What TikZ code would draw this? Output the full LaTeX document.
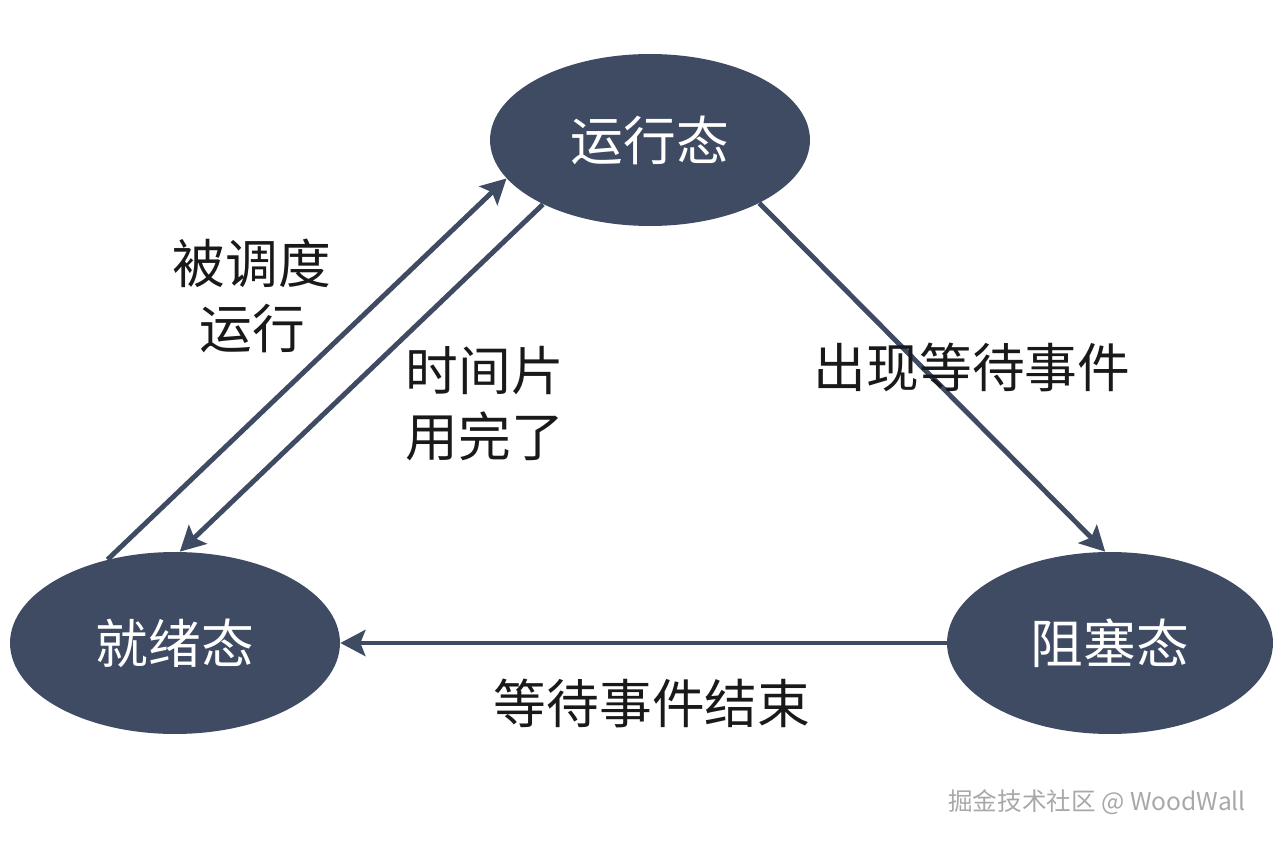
\documentclass[tikz,border=0pt]{standalone}
\usepackage{fontspec}
\setmainfont{Noto Sans CJK SC}
\definecolor{stslate}{HTML}{3F4A63}
\definecolor{stmark}{HTML}{A8A8A8}
\usetikzlibrary{arrows.meta,shapes.geometric}

\begin{document}
\begin{tikzpicture}[
  x=0.02cm,y=-0.02cm,
  state/.style={ellipse,fill=stslate,draw=none,inner sep=0pt,text=white,
    font=\fontsize{30}{37.5}\selectfont},
  arr/.style={-{Stealth[length=5mm,width=5.2mm,inset=1mm]},stslate,line width=2.8pt},
  lab/.style={font=\fontsize{30}{37.5}\selectfont,align=center,text=black!90}]
\useasboundingbox (0,0) rectangle (1275,841);
% states
\node[state,minimum width=6.4cm,minimum height=3.44cm] (run) at (650,140) {运行态};
\node[state,minimum width=6.6cm,minimum height=3.64cm] (rdy) at (175,643) {就绪态};
\node[state,minimum width=6.52cm,minimum height=3.64cm] (blk) at (1110,643) {阻塞态};
% transitions
\draw[arr] (rdy.129) -- (run.195);
\draw[arr] (run.211) -- (rdy.87);
\draw[arr] (run.330) -- (blk.93);
\draw[arr] (blk.west) -- (rdy.east);
% labels
\node[lab] (l1) at (252,296) {被调度\\运行};
\node[lab] (l2) at (485,404) {时间片\\用完了};
\node[lab] (l3) at (972,367) {出现等待事件};
\node[lab] (l4) at (652,703) {等待事件结束};
\node[anchor=east,text=stmark,font=\fontsize{14}{16}\selectfont] (wm) at (1252,802) {掘金技术社区 @ WoodWall};
\end{tikzpicture}
\end{document}
